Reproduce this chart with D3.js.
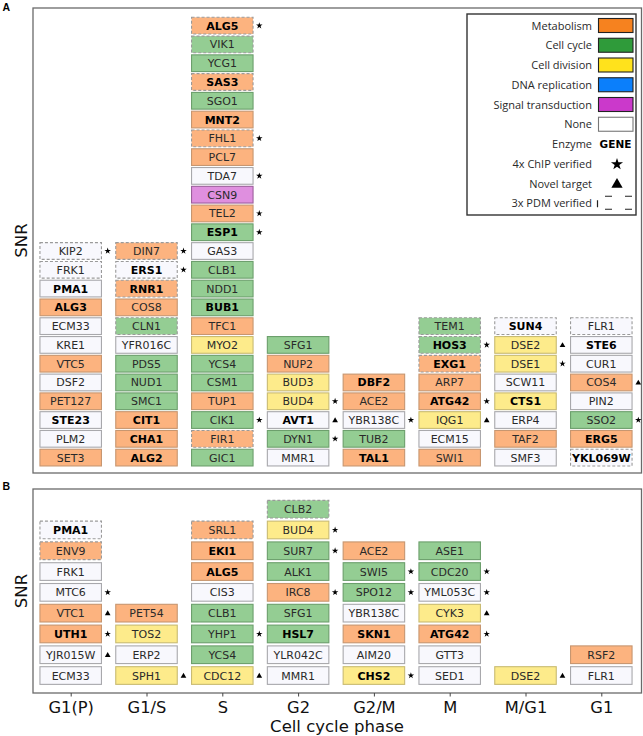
<!DOCTYPE html>
<html><head><meta charset="utf-8">
<script src="https://cdn.jsdelivr.net/npm/d3@7"></script>
<style>body{margin:0;background:#fff}</style>
</head><body>
<svg id="c" width="643" height="736"></svg>
<script>
// Phases (x categories)
const phases = ["G1(P)","G1/S","S","G2","G2/M","M","M/G1","G1"];
// Gene entries per phase, top to bottom: "GENE category flags"
// category: M metabolism, C cell cycle, D cell division, R DNA replication, S signal transduction, N none
// flags: b = enzyme (bold), s = 4x ChIP verified (star), t = novel target (triangle), d = 3x PDM verified (dashed)
const panelA = [
  ["KIP2 N sd","FRK1 N d","PMA1 N b","ALG3 M b","ECM33 N -","KRE1 N -","VTC5 M -","DSF2 N -","PET127 M -","STE23 N b","PLM2 N -","SET3 M -"],
  ["DIN7 M sd","ERS1 N bsd","RNR1 M bd","COS8 M -","CLN1 C d","YFR016C N -","PDS5 C -","NUD1 C -","SMC1 C -","CIT1 M b","CHA1 M b","ALG2 M b"],
  ["ALG5 M bsd","VIK1 C d","YCG1 C -","SAS3 M bd","SGO1 C -","MNT2 M b","FHL1 M sd","PCL7 M -","TDA7 N s","CSN9 S -","TEL2 M s","ESP1 C bs","GAS3 N -","CLB1 C -","NDD1 C -","BUB1 C b","TFC1 M -","MYO2 D -","YCS4 C -","CSM1 C -","TUP1 M -","CIK1 C s","FIR1 M d","GIC1 C -"],
  ["SFG1 C -","NUP2 M -","BUD3 D -","BUD4 D s","AVT1 N bt","DYN1 C s","MMR1 N -"],
  ["DBF2 M b","ACE2 M -","YBR138C N s","TUB2 C -","TAL1 M b"],
  ["TEM1 C d","HOS3 C bsd","EXG1 M bd","ARP7 M -","ATG42 M bs","IQG1 D t","ECM15 N -","SWI1 M -"],
  ["SUN4 N bd","DSE2 D t","DSE1 D s","SCW11 N -","CTS1 D b","ERP4 N -","TAF2 M -","SMF3 N -"],
  ["FLR1 N d","STE6 N b","CUR1 N -","COS4 M t","PIN2 N -","SSO2 C s","ERG5 M b","YKL069W N bd"]
];
const panelB = [
  ["PMA1 N bd","ENV9 M d","FRK1 N -","MTC6 N s","VTC1 M t","UTH1 M bs","YJR015W N t","ECM33 N -"],
  ["PET54 M -","TOS2 D -","ERP2 N -","SPH1 D t"],
  ["SRL1 M d","EKI1 M b","ALG5 M b","CIS3 N -","CLB1 C -","YHP1 C s","YCS4 C -","CDC12 D t"],
  ["CLB2 C d","BUD4 D s","SUR7 C s","ALK1 C -","IRC8 M s","SFG1 C -","HSL7 C b","YLR042C N -","MMR1 N -"],
  ["ACE2 M -","SWI5 C s","SPO12 C s","YBR138C N -","SKN1 M b","AIM20 N -","CHS2 D bs"],
  ["ASE1 C -","CDC20 C s","YML053C N s","CYK3 D t","ATG42 M bs","GTT3 N -","SED1 N -"],
  ["DSE2 D t"],
  ["RSF2 M -","FLR1 N -"]
];
// Legend
const legendCats = ["Metabolism","Cell cycle","Cell division","DNA replication","Signal transduction","None"];
const legendKeys = ["M","C","D","R","S","N"];
const legendExtra = ["Enzyme","4x ChIP verified","Novel target","3x PDM verified"];

const boxFill = {M:"#fcb37f",C:"#94cd93",D:"#fdeb8b",R:"#86bdff",S:"#df8fdf",N:"#f8f8fd"};
const boxStroke = {M:"#c79670",C:"#6c9f6c",D:"#c9bb72",R:"#5a8cc6",S:"#9c5f9c",N:"#a8a8ac"};
const legendFill = {M:"#f6821f",C:"#2f9b3a",D:"#ffe21c",R:"#0b7ffb",S:"#cb39cb",N:"#ffffff"};

const svg = d3.select("#c");
const x = d3.scalePoint().domain(phases).range([70.7, 601.3]);
const boxW = 61.5;

function parse(s){
  const [g,c,f] = s.split(" ");
  return {g, c, b:f.includes("b"), s:f.includes("s"), t:f.includes("t"), d:f.includes("d")};
}

function drawPanel(data, y, hFrac, top, bottom){
  svg.append("rect").attr("x",33).attr("y",top).attr("width",608.5).attr("height",bottom-top)
    .attr("fill","none").attr("stroke","#6a6a6a").attr("stroke-width",1.3);
  const pitch = Math.abs(y(1)-y(0));
  const bh = pitch*hFrac;
  data.forEach((col,ci)=>{
    const n = col.length;
    col.map(parse).forEach((d,k)=>{
      const idx = n-1-k;
      const cx = x(phases[ci]), cy = y(idx);
      const g = svg.append("g");
      g.append("rect").attr("x",cx-boxW/2).attr("y",cy-bh/2).attr("width",boxW).attr("height",bh)
        .attr("fill",boxFill[d.c])
        .attr("stroke", d.d ? "#9a9a9a" : boxStroke[d.c])
        .attr("stroke-width",1.1)
        .attr("stroke-dasharray", d.d ? "3,2" : null);
      g.append("text").attr("x",cx).attr("y",cy+4)
        .attr("text-anchor","middle")
        .attr("font-family","DejaVu Sans").attr("font-size",11)
        .attr("font-weight", d.b ? "bold":"normal")
        .attr("fill", d.b ? "#000":"#2a2a2a")
        .text(d.g);
      if(d.s || d.t){
        svg.append("path")
          .attr("d", d3.symbol().type(d.s ? d3.symbolStar : d3.symbolTriangle).size(d.s?13:14)())
          .attr("transform",`translate(${cx+37},${cy+(d.t?0.5:0)})`)
          .attr("fill","#000");
      }
    });
  });
}

const yA = d3.scaleLinear().domain([-0.82, 23.94]).range([473, 8]);
const yB = d3.scaleLinear().domain([-0.84, 8.97]).range([693, 489]);
drawPanel(panelA, yA, 0.89, 8, 473);
drawPanel(panelB, yB, 0.85, 489, 693);

// x axis on panel B
const ax = svg.append("g").attr("transform","translate(0,693)")
  .call(d3.axisBottom(x).tickSize(3.5).tickPadding(5.3));
ax.select(".domain").remove();
ax.selectAll("line").attr("stroke","#444");
ax.selectAll("text").attr("font-family","DejaVu Sans").attr("font-size",16.3).attr("fill","#111");

svg.append("text").attr("x",337).attr("y",731.5).attr("text-anchor","middle")
  .attr("font-family","DejaVu Sans").attr("font-size",16.5).attr("fill","#111").text("Cell cycle phase");

[[240.5],[591]].forEach(([cy])=>{
  svg.append("text").attr("transform",`translate(27,${cy}) rotate(-90)`).attr("text-anchor","middle")
    .attr("font-family","DejaVu Sans").attr("font-size",16.5).attr("fill","#111").text("SNR");
});

svg.append("text").attr("x",2.5).attr("y",10.5).attr("font-family","Liberation Sans").attr("font-weight","bold")
  .attr("font-size",10.5).text("A");
svg.append("text").attr("x",2.5).attr("y",490).attr("font-family","Liberation Sans").attr("font-weight","bold")
  .attr("font-size",10.5).text("B");

// Legend
const lg = svg.append("g");
lg.append("rect").attr("x",467).attr("y",14).attr("width",169).attr("height",201)
  .attr("fill","#fff").attr("stroke","#333").attr("stroke-width",1.4);
const ly = i => 25.5 + i*19.75;
legendCats.forEach((name,i)=>{
  lg.append("text").attr("x",592).attr("y",ly(i)+4).attr("text-anchor","end")
    .attr("font-family","Open Sans").attr("font-size",11).attr("fill","#2a2a2a").text(name);
  lg.append("rect").attr("x",598.5).attr("y",ly(i)-7).attr("width",34.5).attr("height",14)
    .attr("fill",legendFill[legendKeys[i]]).attr("stroke", legendKeys[i]==="N" ? "#777":"#222").attr("stroke-width",1.1);
});
legendExtra.forEach((name,j)=>{
  const i = j+6;
  lg.append("text").attr("x",592).attr("y",ly(i)+4).attr("text-anchor","end")
    .attr("font-family","Open Sans").attr("font-size",11).attr("fill","#2a2a2a").text(name);
});
lg.append("text").attr("x",615.5).attr("y",ly(6)+4).attr("text-anchor","middle")
  .attr("font-family","DejaVu Sans").attr("font-weight","bold").attr("font-size",10.5).text("GENE");
lg.append("path").attr("d",d3.symbol().type(d3.symbolStar).size(45)())
  .attr("transform",`translate(617,${ly(7)+0.5})`).attr("fill","#000");
lg.append("path").attr("d",d3.symbol().type(d3.symbolTriangle).size(55)())
  .attr("transform",`translate(617,${ly(8)+1})`).attr("fill","#000");
// PDM dashed icon
const py = ly(9);
lg.append("line").attr("x1",597.5).attr("x2",597.5).attr("y1",py-3).attr("y2",py+4).attr("stroke","#222").attr("stroke-width",1.2);
lg.append("rect").attr("x",605).attr("y",py-7).attr("width",27).attr("height",13)
  .attr("fill","none").attr("stroke","#222").attr("stroke-width",1.2).attr("stroke-dasharray","7,13");
</script>
</body></html>
